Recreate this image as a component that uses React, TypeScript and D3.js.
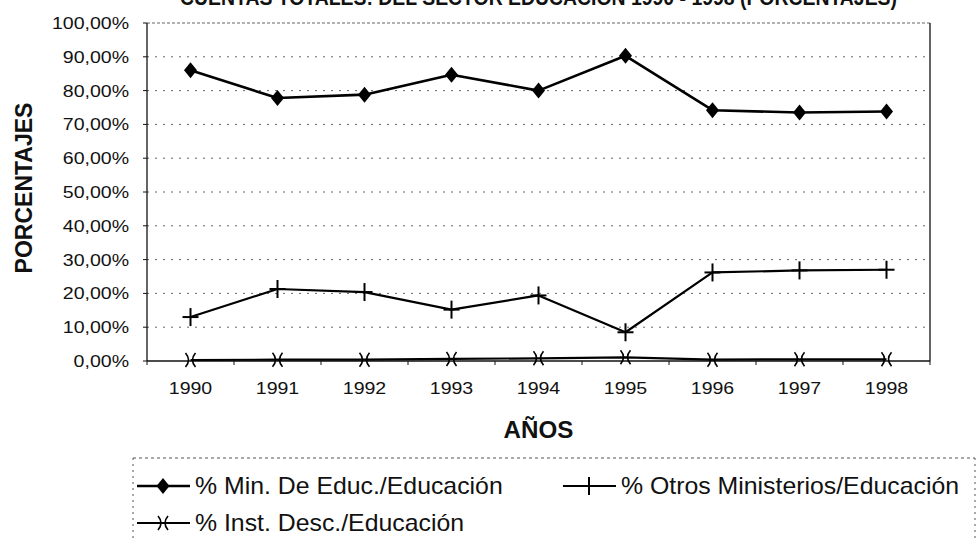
import React from "react";
import * as d3 from "d3";

const years = ["1990", "1991", "1992", "1993", "1994", "1995", "1996", "1997", "1998"];
const minEduc = [86.0, 77.8, 78.8, 84.7, 80.0, 90.3, 74.2, 73.5, 73.8];
const otrosMin = [13.0, 21.3, 20.4, 15.2, 19.4, 8.5, 26.2, 26.8, 27.0];
const instDesc = [0.3, 0.4, 0.4, 0.6, 0.8, 1.1, 0.4, 0.5, 0.5];
const yTicks = [0, 10, 20, 30, 40, 50, 60, 70, 80, 90, 100];
const seriesNames = [
  "% Min. De Educ./Educación",
  "% Otros Ministerios/Educación",
  "% Inst. Desc./Educación",
];
const titleText = "CUENTAS TOTALES: DEL SECTOR EDUCACIÓN 1990 - 1998 (PORCENTAJES)";

const FONT = "'Liberation Sans', Arial, Helvetica, sans-serif";
const W = 978;
const H = 542;
const L = 147, R = 930, T = 23, B = 361;

function SText(props: any) {
  const { x, y, sx = 1.15, anchor = "start", size = 17, weight = "normal", children, rotate = 0, baseline } = props;
  return (
    <text
      transform={`translate(${x},${y}) rotate(${rotate}) scale(${sx},1)`}
      textAnchor={anchor}
      fontSize={size}
      fontWeight={weight}
      fontFamily={FONT}
      fill="#111"
      dominantBaseline={baseline}
    >
      {children}
    </text>
  );
}

function Diamond({ cx, cy }: any) {
  return <path d={`M${cx},${cy - 8} L${cx + 6.5},${cy} L${cx},${cy + 8} L${cx - 6.5},${cy} Z`} fill="#000" />;
}
function Plus({ cx, cy }: any) {
  return (
    <g stroke="#000" strokeWidth={2}>
      <line x1={cx} y1={cy - 9} x2={cx} y2={cy + 9} />
      <line x1={cx - 8} y1={cy} x2={cx + 8} y2={cy} />
    </g>
  );
}
function XMark({ cx, cy }: any) {
  return (
    <g stroke="#000" strokeWidth={1.6} fill="none">
      <path d={`M${cx - 5},${cy - 7} Q${cx + 1},${cy} ${cx - 5},${cy + 7}`} />
      <path d={`M${cx + 5},${cy - 7} Q${cx - 1},${cy} ${cx + 5},${cy + 7}`} />
    </g>
  );
}

export default function App() {
  const x = d3.scaleBand<string>().domain(years).range([L, R]).padding(0);
  const y = d3.scaleLinear().domain([0, 100]).range([B, T]);
  const cx = (yr: string) => (x(yr) as number) + x.bandwidth() / 2;
  const line = d3
    .line<number>()
    .x((_, i) => cx(years[i]))
    .y((v) => y(v));
  const fmt = (v: number) => `${v.toFixed(2).replace(".", ",")}%`;

  const series = [
    { name: seriesNames[0], data: minEduc, width: 2.6, Marker: Diamond },
    { name: seriesNames[1], data: otrosMin, width: 2.2, Marker: Plus },
    { name: seriesNames[2], data: instDesc, width: 2.2, Marker: XMark },
  ];

  const legendItems = [
    { s: series[0], lx: 137, ly: 494 },
    { s: series[1], lx: 563, ly: 494 },
    { s: series[2], lx: 137, ly: 531 },
  ];

  return (
    <svg
      width={W}
      height={H}
      viewBox={`0 0 ${W} ${H}`}
      style={{ position: "absolute", left: 0, top: 0, display: "block", background: "#fff" }}
    >
      <rect x={0} y={0} width={W} height={H} fill="#fff" />
      {/* title, clipped at top */}
      <text
        x={(L + R) / 2}
        y={5}
        textAnchor="middle"
        fontSize={22}
        fontWeight="bold"
        fontFamily={FONT}
        fill="#111"
        textLength={717}
        lengthAdjust="spacingAndGlyphs"
      >
        {titleText}
      </text>

      {/* gridlines */}
      {yTicks.filter((t) => t > 0).map((t) => (
        <line
          key={t}
          x1={L}
          x2={R}
          y1={y(t)}
          y2={y(t)}
          stroke="#666"
          strokeWidth={1}
          strokeDasharray={t === 100 ? "3,2" : "2,6"}
        />
      ))}

      {/* frame */}
      <line x1={L} x2={L} y1={T} y2={B} stroke="#111" strokeWidth={1.3} />
      <line x1={R} x2={R} y1={T} y2={B} stroke="#111" strokeWidth={1.3} />
      <line x1={L} x2={R} y1={B} y2={B} stroke="#111" strokeWidth={1.3} />

      {/* y ticks */}
      {yTicks.map((t) => (
        <g key={t}>
          <line x1={L - 4} x2={L} y1={y(t)} y2={y(t)} stroke="#111" strokeWidth={1} />
          <SText x={129} y={y(t)} anchor="end" size={17} baseline="central">
            {fmt(t)}
          </SText>
        </g>
      ))}

      {/* x ticks */}
      {years.map((yr, i) => (
        <g key={yr}>
          <line x1={x(yr) as number} x2={x(yr) as number} y1={B} y2={B + 4} stroke="#111" strokeWidth={1} />
          <SText x={cx(yr)} y={388} anchor="middle" size={17} baseline="central">
            {yr}
          </SText>
        </g>
      ))}
      <line x1={R} x2={R} y1={B} y2={B + 4} stroke="#111" strokeWidth={1} />

      {/* axis titles */}
      <SText x={(L + R) / 2} y={438} anchor="middle" size={23} weight="bold" sx={1.05}>
        AÑOS
      </SText>
      <SText x={32} y={188} anchor="middle" size={23} weight="bold" sx={1} rotate={-90}>
        PORCENTAJES
      </SText>

      {/* series */}
      {series.map((s, si) => (
        <g key={si}>
          <path d={line(s.data) as string} fill="none" stroke="#000" strokeWidth={s.width} strokeLinejoin="round" />
          {s.data.map((v, i) => (
            <s.Marker key={i} cx={cx(years[i])} cy={y(v)} />
          ))}
        </g>
      ))}

      {/* legend box */}
      <line x1={133} x2={975} y1={458} y2={458} stroke="#555" strokeWidth={1} strokeDasharray="3,3" />
      <line x1={133} x2={133} y1={458} y2={H} stroke="#555" strokeWidth={1} strokeDasharray="2,4" />
      <line x1={975} x2={975} y1={458} y2={H} stroke="#555" strokeWidth={1} strokeDasharray="2,4" />

      {legendItems.map(({ s, lx, ly }, i) => {
        const my = ly - 8;
        return (
          <g key={i}>
            <line x1={lx} x2={lx + 53} y1={my} y2={my} stroke="#000" strokeWidth={s.width} />
            <s.Marker cx={lx + 26} cy={my} />
            <SText x={lx + 58} y={ly} size={23} sx={1.08}>
              {s.name}
            </SText>
          </g>
        );
      })}
    </svg>
  );
}
